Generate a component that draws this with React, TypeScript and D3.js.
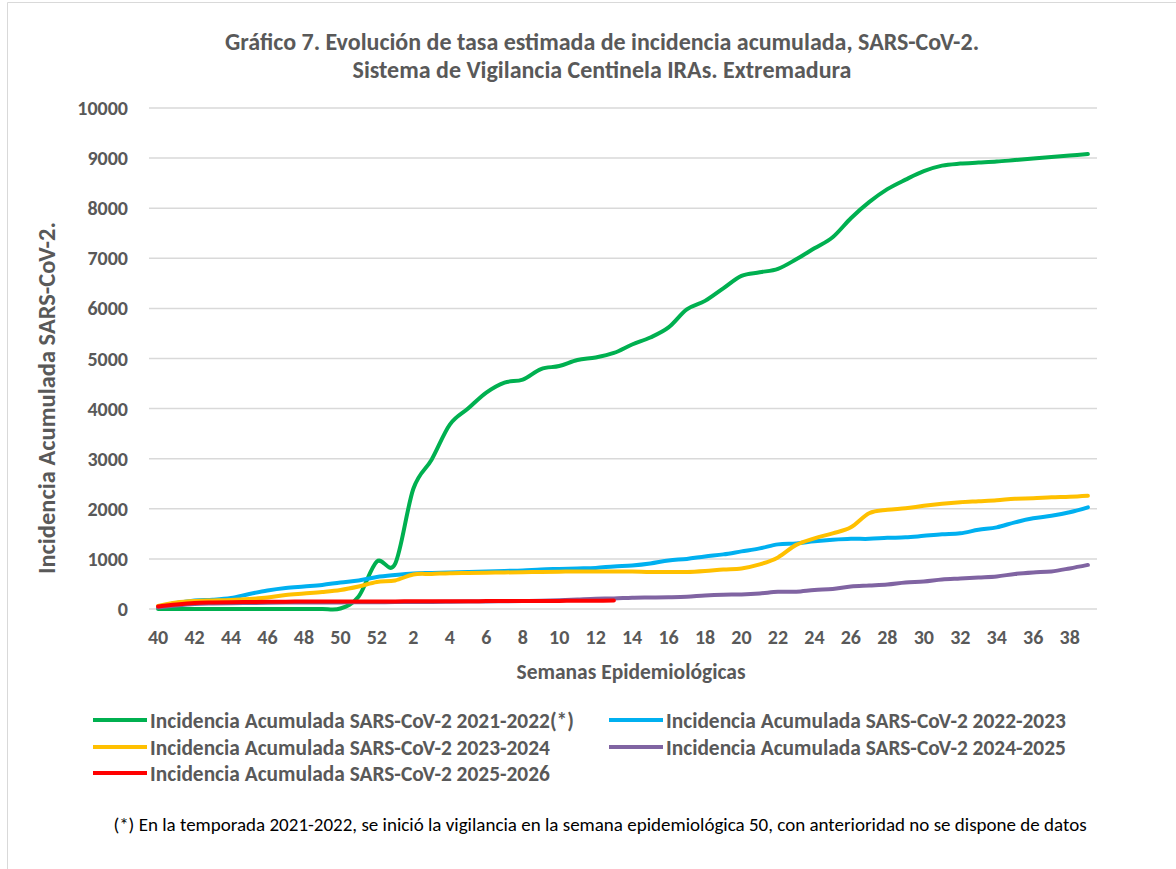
import React from "react";
import * as d3 from "d3";

const width = 1176;
const height = 869;
const plot = { left: 149, right: 1097, top: 108, bottom: 609 };

const weeks = [
  "40", "41", "42", "43", "44", "45", "46", "47", "48", "49", "50", "51", "52",
  "1", "2", "3", "4", "5", "6", "7", "8", "9", "10", "11", "12", "13",
  "14", "15", "16", "17", "18", "19", "20", "21", "22", "23", "24", "25", "26",
  "27", "28", "29", "30", "31", "32", "33", "34", "35", "36", "37", "38", "39",
];

const yTicks = [0, 1000, 2000, 3000, 4000, 5000, 6000, 7000, 8000, 9000, 10000];

const s2122 = [
  0, 0, 0, 0, 0, 0, 0, 0, 0, 0, 10, 250, 950,
  900, 2400, 2980, 3680, 4000, 4320, 4520, 4580, 4790, 4850, 4970, 5020, 5110,
  5280, 5420, 5620, 5980, 6150, 6400, 6650, 6720, 6790, 6980, 7200, 7420, 7800,
  8120, 8380, 8570, 8740, 8850, 8890, 8910, 8930, 8960, 8990, 9020, 9050, 9080,
];
const s2223 = [
  50, 120, 170, 185, 220, 300, 370, 420, 450, 480, 530, 570, 640,
  680, 710, 720, 730, 740, 750, 760, 770, 790, 800, 810, 820, 850,
  870, 910, 970, 1000, 1050, 1090, 1150, 1210, 1290, 1310, 1350, 1380, 1400,
  1400, 1420, 1430, 1460, 1490, 1510, 1580, 1630, 1730, 1810, 1860, 1930, 2030,
];
const s2324 = [
  60, 130, 160, 170, 180, 200, 230, 280, 310, 340, 380, 450, 540,
  570, 690, 700, 715, 720, 725, 730, 735, 740, 745, 750, 750, 750,
  750, 740, 740, 740, 760, 790, 810, 890, 1030, 1280, 1410, 1510, 1630,
  1910, 1980, 2010, 2060, 2100, 2130, 2150, 2170, 2200, 2210, 2230, 2240, 2260,
];
const s2425 = [
  30, 70, 100, 110, 115, 120, 125, 128, 130, 130, 132, 135, 135,
  138, 140, 142, 145, 148, 150, 155, 160, 165, 175, 190, 205, 210,
  225, 230, 235, 245, 270, 285, 290, 310, 345, 345, 380, 400, 450,
  470, 490, 530, 550, 590, 610, 630, 650, 700, 730, 750, 810, 880,
];
const s2526 = [
  50, 90, 120, 130, 135, 140, 145, 145, 150, 150, 150, 150, 150,
  150, 155, 155, 155, 155, 158, 160, 160, 160, 162, 165, 165, 168,
];

const series = [
  { name: "Incidencia Acumulada SARS-CoV-2 2021-2022(*)", color: "#00B050", values: s2122 },
  { name: "Incidencia Acumulada SARS-CoV-2 2022-2023", color: "#00B0F0", values: s2223 },
  { name: "Incidencia Acumulada SARS-CoV-2 2023-2024", color: "#FFC000", values: s2324 },
  { name: "Incidencia Acumulada SARS-CoV-2 2024-2025", color: "#8064A2", values: s2425 },
  { name: "Incidencia Acumulada SARS-CoV-2 2025-2026", color: "#FF0000", values: s2526 },
];

const font = "Carlito, Lato, 'Open Sans', sans-serif";
const grey = "#595959";

export default function App() {
  const x = d3.scalePoint<string>().domain(weeks).range([plot.left, plot.right]).padding(0.5);
  const y = d3.scaleLinear().domain([0, 10000]).range([plot.bottom, plot.top]);

  const line = d3
    .line<number>()
    .x((_, i) => x(weeks[i]) as number)
    .y(d => y(d))
    .curve(d3.curveCatmullRom.alpha(0));

  // legend: two columns, three rows
  const legendPos = [
    { x: 93, y: 720 },
    { x: 609, y: 720 },
    { x: 93, y: 747 },
    { x: 609, y: 747 },
    { x: 93, y: 773 },
  ];

  return (
    <svg
      width={width}
      height={height}
      style={{ position: "absolute", left: 0, top: 0, background: "#fff" }}
      fontFamily={font}
    >
      <rect x={0} y={0} width={width} height={height} fill="#fff" />
      {/* chart frame, only top and left edges fall inside the picture */}
      <path d={`M7.5,${height} V2.5 H${width}`} fill="none" stroke="#D9D9D9" />

      <text x={602} y={42} dy="0.35em" textAnchor="middle" fontSize={24} fontWeight="bold" fill={grey}>
        Gráfico 7. Evolución de tasa estimada de incidencia acumulada, SARS-CoV-2.
      </text>
      <text x={602} y={70} dy="0.35em" textAnchor="middle" fontSize={24} fontWeight="bold" fill={grey}>
        Sistema de Vigilancia Centinela IRAs. Extremadura
      </text>

      {yTicks.map(t => (
        <g key={t}>
          <line x1={plot.left} x2={plot.right} y1={y(t)} y2={y(t)} stroke="#D9D9D9" strokeWidth={1.5} />
          <text x={128} y={y(t)} dy="0.35em" textAnchor="end" fontSize={20} fontWeight="bold" fill={grey}>
            {t}
          </text>
        </g>
      ))}

      {weeks.map((w, i) =>
        i % 2 === 0 ? (
          <text key={w} x={x(w)} y={637} dy="0.35em" textAnchor="middle" fontSize={20} fontWeight="bold" fill={grey}>
            {w}
          </text>
        ) : null
      )}

      <text
        transform="translate(46,398) rotate(-90)"
        textAnchor="middle"
        dy="0.35em"
        fontSize={24.5}
        fontWeight="bold"
        fill={grey}
      >
        Incidencia Acumulada SARS-CoV-2.
      </text>
      <text x={631} y={671} dy="0.35em" textAnchor="middle" fontSize={21.5} fontWeight="bold" fill={grey}>
        Semanas Epidemiológicas
      </text>

      {series.map(s => (
        <path
          key={s.name}
          d={line(s.values) || ""}
          fill="none"
          stroke={s.color}
          strokeWidth={4}
          strokeLinecap="round"
          strokeLinejoin="round"
        />
      ))}

      {series.map((s, i) => (
        <g key={s.name} transform={`translate(${legendPos[i].x},${legendPos[i].y})`}>
          <line x1={0} x2={54} y1={0} y2={0} stroke={s.color} strokeWidth={4} />
          <text x={57} y={0} dy="0.35em" fontSize={21.4} fontWeight="bold" fill={grey}>
            {s.name}
          </text>
        </g>
      ))}

      <text x={600} y={824} dy="0.35em" textAnchor="middle" fontSize={19} fill="#000">
        (*) En la temporada 2021-2022, se inició la vigilancia en la semana epidemiológica 50, con anterioridad no se dispone de datos
      </text>
    </svg>
  );
}
